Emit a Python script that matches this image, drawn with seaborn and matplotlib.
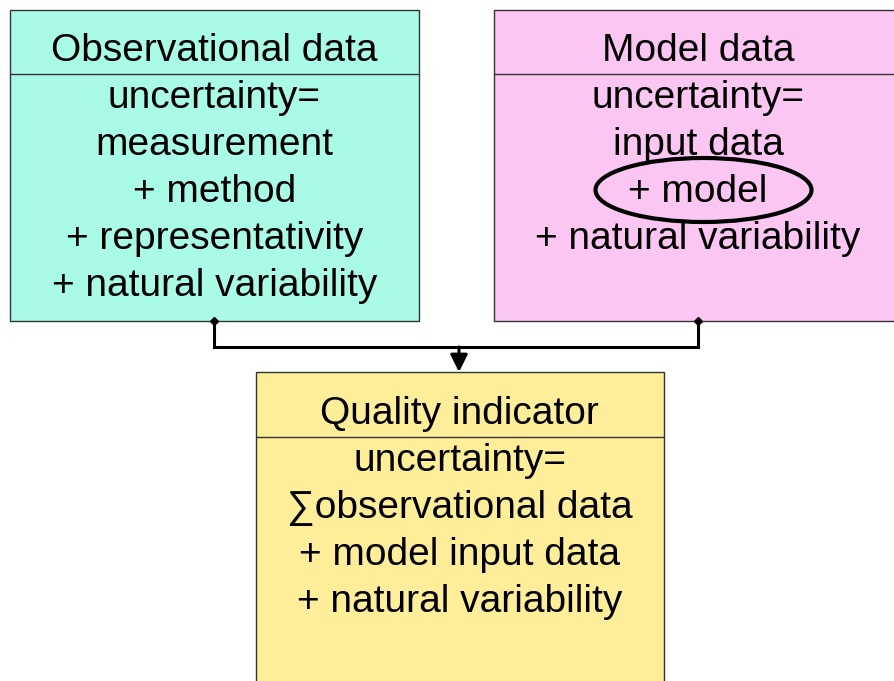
import seaborn as sns
import matplotlib.pyplot as plt
from matplotlib.patches import Rectangle, Ellipse, FancyArrowPatch

# Box contents
obs_title = "Observational data"
obs_lines = ["uncertainty=", "measurement", "+ method",
             "+ representativity", "+ natural variability"]

model_title = "Model data"
model_lines = ["uncertainty=", "input data", "+ model", "+ natural variability"]

qi_title = "Quality indicator"
qi_lines = ["uncertainty=", "\u2211observational data",
            "+ model input data", "+ natural variability"]

highlighted = "+ model"

sns.set_theme(style="white")
plt.rcParams['font.family'] = ['Liberation Sans', 'DejaVu Sans']
plt.rcParams['text.color'] = 'black'

fig = plt.figure(figsize=(8.94, 6.81), dpi=100)
ax = fig.add_axes([0, 0, 1, 1])
ax.set_xlim(0, 894)
ax.set_ylim(681, 0)
ax.axis('off')

FS = 28
LINE = 47
edge = '#333333'


def draw_box(x0, x1, y0, y1, div, color, title, lines, cx):
    ax.add_patch(Rectangle((x0, y0), x1 - x0, y1 - y0, facecolor=color,
                           edgecolor=edge, linewidth=1.0, zorder=1))
    ax.plot([x0, x1], [div, div], color=edge, linewidth=1.0, zorder=2)
    ax.text(cx, div - 13, title, fontsize=FS, ha='center', va='baseline',
            color='black', zorder=3)
    for i, line in enumerate(lines):
        ax.text(cx, div + 34 + i * LINE, line, fontsize=FS, ha='center',
                va='baseline', color='black', zorder=3)


draw_box(9.5, 419, 9.5, 320.5, 74, '#aafae8', obs_title, obs_lines, 214.5)
draw_box(493.5, 903, 9.5, 320.5, 74, '#fcc6f3', model_title, model_lines, 698)
draw_box(255.5, 664, 372, 700, 437, '#ffee99', qi_title, qi_lines, 459.5)

# highlight around "+ model"
idx = model_lines.index(highlighted)
ax.add_patch(Ellipse((703.5, 74 + 34 + idx * LINE - 12), 216, 64, fill=False,
                     edgecolor='black', linewidth=3, zorder=4))

# connectors
ax.plot([214, 214, 698, 698], [320.5, 347, 347, 320.5], color='black',
        linewidth=2.2, solid_joinstyle='miter', zorder=2)
ax.plot([214, 698], [320.5, 320.5], linestyle='none', marker='D',
        markersize=4, color='black', zorder=5)
ax.add_patch(FancyArrowPatch((459, 347), (459, 372), arrowstyle='-|>',
                             mutation_scale=26, color='black', linewidth=2.2,
                             shrinkA=0, shrinkB=0, zorder=3))

fig.savefig('out.png', dpi=100)
